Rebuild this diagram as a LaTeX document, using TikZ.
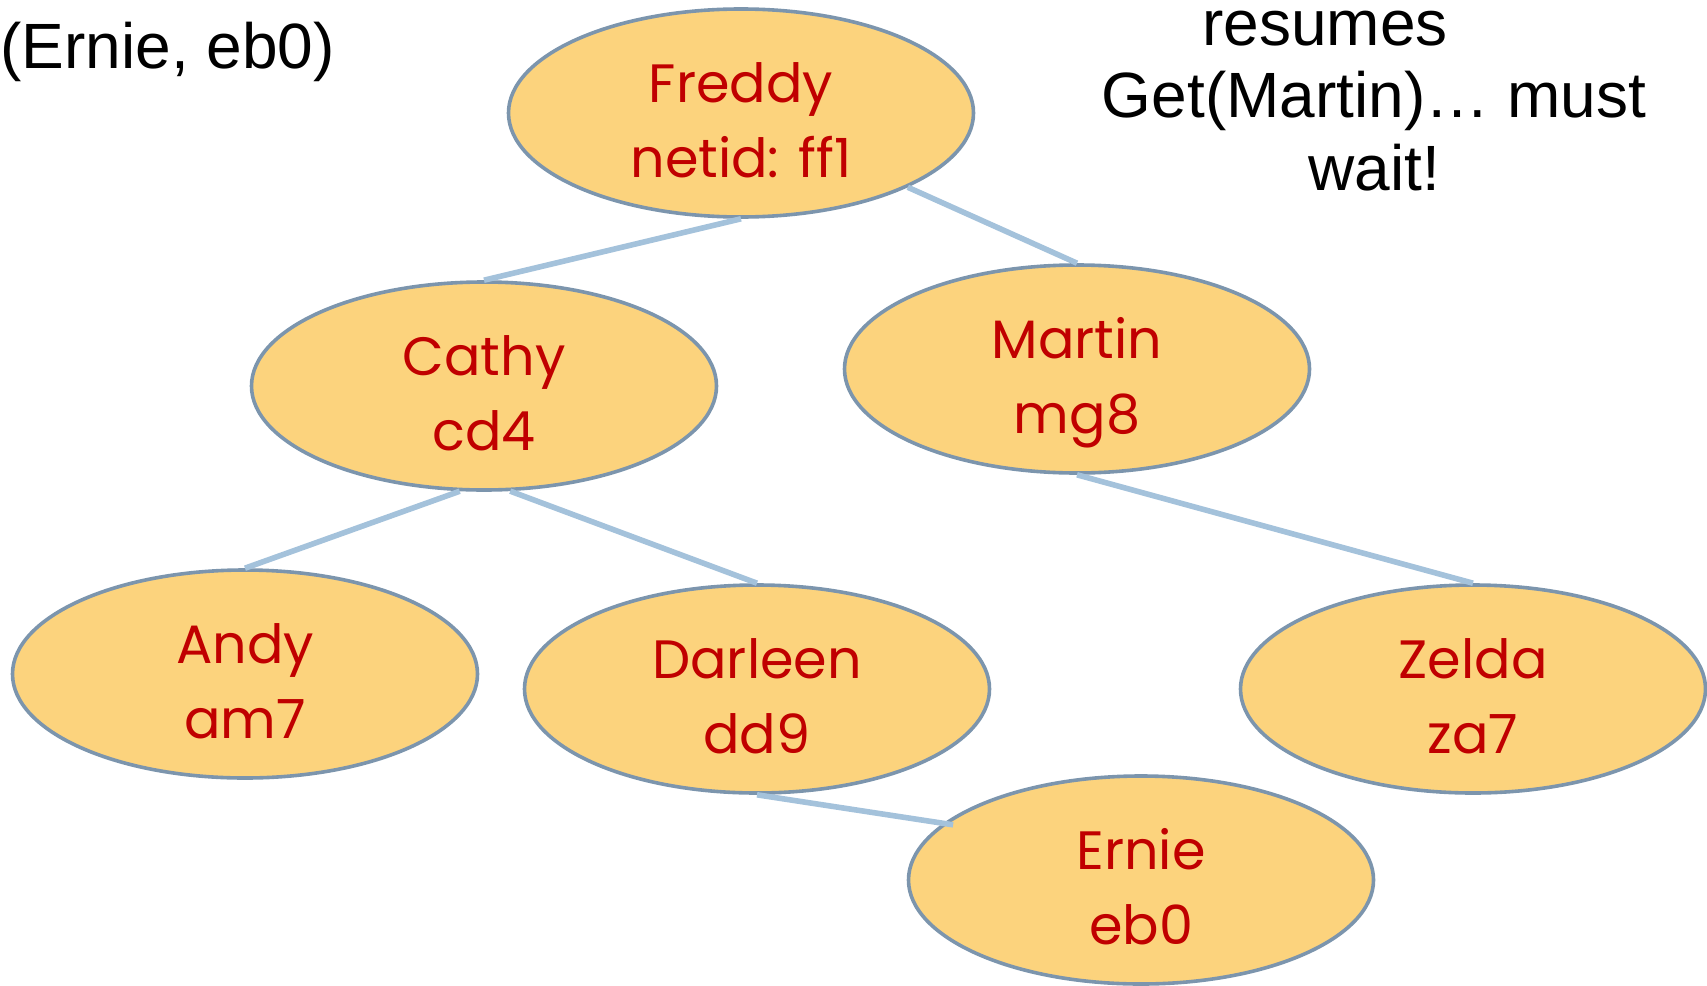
\documentclass[tikz,border=0pt]{standalone}
\usepackage{fontspec}
\setmainfont{Liberation Sans}
\newfontfamily\namefont{Poppins}
\usetikzlibrary{shapes.geometric}
\definecolor{nodefill}{HTML}{FCD37D}
\definecolor{nodeline}{HTML}{7C95AD}
\definecolor{edgeblue}{HTML}{A4C2DB}
\definecolor{namered}{HTML}{C00000}

\begin{document}
\begin{tikzpicture}[x=0.5pt,y=-0.5pt,
    name node/.style={ellipse,draw=nodeline,fill=nodefill,line width=1.8pt,
      minimum width=232.5pt,minimum height=104pt,inner sep=0pt,align=center,
      text=namered,text height=64pt,text depth=0pt,
      font=\namefont\fontsize{27}{37.5}\selectfont},
    note/.style={inner sep=0pt,align=center,font=\fontsize{32}{36.25}\selectfont}]
    \useasboundingbox (0,0) rectangle (1707,985);

    \node[name node] (Freddy) at (741,113) {Freddy\\netid: ff1};
    \node[name node] (Cathy) at (484,386) {Cathy\\cd4};
    \node[name node] (Martin) at (1077,369) {Martin\\mg8};
    \node[name node] (Andy) at (245,674) {Andy\\am7};
    \node[name node] (Darleen) at (757,689) {Darleen\\dd9};
    \node[name node] (Zelda) at (1473,689) {Zelda\\za7};
    \node[name node] (Ernie) at (1141,880) {Ernie\\eb0};

    \path[every edge/.style={draw=edgeblue,line width=2.8pt}]
    (Freddy.south) edge (Cathy.north)
    (Freddy.-24) edge (Martin.north)
    (Cathy.-103) edge (Andy.north)
    (Cathy.-76) edge (Darleen.north)
    (Martin.south) edge (Zelda.north)
    (Darleen.south) edge [shorten >=-5pt] (Ernie.164);

    \node[note,anchor=base west] (lookup) at (0,68) {(Ernie, eb0)};
    \node[note,anchor=base] (resume) at (1374,190)
        {resumes\kern49pt\\Get(Martin)… must\\wait!};
\end{tikzpicture}
\end{document}
